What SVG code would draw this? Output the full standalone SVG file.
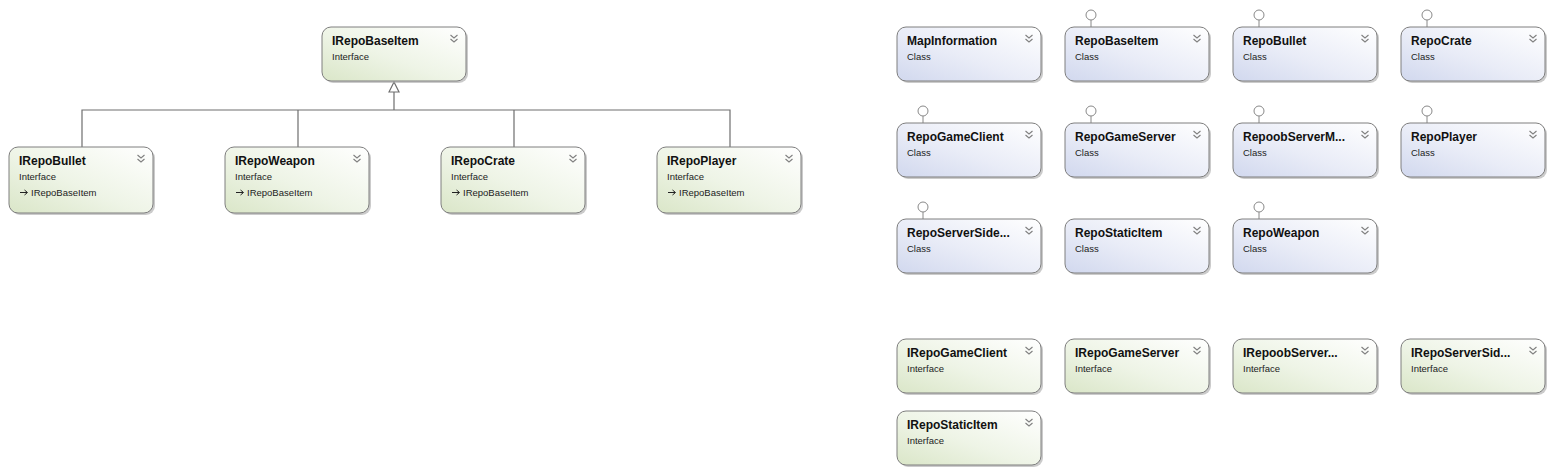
<svg xmlns="http://www.w3.org/2000/svg" width="1555" height="474" viewBox="0 0 1555 474">
<defs>
<linearGradient id="gi" x1="0" y1="1" x2="1" y2="0">
<stop offset="0" stop-color="#dae6c8"/><stop offset="0.45" stop-color="#eef4e6"/><stop offset="1" stop-color="#ffffff"/>
</linearGradient>
<linearGradient id="gc" x1="0" y1="1" x2="1" y2="0">
<stop offset="0" stop-color="#d1d8ee"/><stop offset="0.45" stop-color="#e9ecf7"/><stop offset="1" stop-color="#ffffff"/>
</linearGradient>
<g id="chev"><path d="M-3.5,-4 L0,-1 L3.5,-4 M-3.5,0 L0,3 L3.5,0" fill="none" stroke="#808080" stroke-width="1.1"/></g>
<g id="lol"><circle cx="0" cy="-12" r="5" fill="#fff" stroke="#888" stroke-width="1"/><line x1="0" y1="-7" x2="0" y2="0" stroke="#888" stroke-width="1"/></g>
</defs>
<style>
.sh{fill:#a8a8a8;opacity:0.6}
.bi{fill:url(#gi);stroke:#7e7e7e;stroke-width:1}
.bc{fill:url(#gc);stroke:#7e7e7e;stroke-width:1}
.t{font-family:"Liberation Sans",Arial,sans-serif;font-size:12px;font-weight:bold;fill:#111}
.s{font-family:"Liberation Sans",Arial,sans-serif;font-size:9.5px;fill:#222}
.c{fill:none;stroke:#6e6e6e;stroke-width:1.2}
</style>
<rect width="1555" height="474" fill="#fff"/>
<g id="connectors">
<path class="c" d="M82,147 V110 H730 V147 M298,110 V147 M514,110 V147 M394,110 V92"/>
<path d="M389,92 L394,82 L399,92 Z" fill="#fff" stroke="#6e6e6e" stroke-width="1.2"/>
</g>
<g id="IRepoBaseItem"><rect class="sh" x="324" y="29" width="144" height="54" rx="9"/><rect class="bi" x="322" y="27" width="144" height="54" rx="9"/><text class="t" x="332" y="45">IRepoBaseItem</text><text class="s" x="332" y="60">Interface</text><use href="#chev" x="454" y="39"/></g>
<g id="IRepoBullet"><rect class="sh" x="11" y="149" width="144" height="66" rx="9"/><rect class="bi" x="9" y="147" width="144" height="66" rx="9"/><text class="t" x="19" y="165">IRepoBullet</text><text class="s" x="19" y="180">Interface</text><path d="M20,192.5 H27 M24.5,190 L27.5,192.5 L24.5,195" fill="none" stroke="#222" stroke-width="1"/><text class="s" x="31" y="196">IRepoBaseItem</text><use href="#chev" x="141" y="159"/></g>
<g id="IRepoWeapon"><rect class="sh" x="227" y="149" width="144" height="66" rx="9"/><rect class="bi" x="225" y="147" width="144" height="66" rx="9"/><text class="t" x="235" y="165">IRepoWeapon</text><text class="s" x="235" y="180">Interface</text><path d="M236,192.5 H243 M240.5,190 L243.5,192.5 L240.5,195" fill="none" stroke="#222" stroke-width="1"/><text class="s" x="247" y="196">IRepoBaseItem</text><use href="#chev" x="357" y="159"/></g>
<g id="IRepoCrate"><rect class="sh" x="443" y="149" width="144" height="66" rx="9"/><rect class="bi" x="441" y="147" width="144" height="66" rx="9"/><text class="t" x="451" y="165">IRepoCrate</text><text class="s" x="451" y="180">Interface</text><path d="M452,192.5 H459 M456.5,190 L459.5,192.5 L456.5,195" fill="none" stroke="#222" stroke-width="1"/><text class="s" x="463" y="196">IRepoBaseItem</text><use href="#chev" x="573" y="159"/></g>
<g id="IRepoPlayer"><rect class="sh" x="659" y="149" width="144" height="66" rx="9"/><rect class="bi" x="657" y="147" width="144" height="66" rx="9"/><text class="t" x="667" y="165">IRepoPlayer</text><text class="s" x="667" y="180">Interface</text><path d="M668,192.5 H675 M672.5,190 L675.5,192.5 L672.5,195" fill="none" stroke="#222" stroke-width="1"/><text class="s" x="679" y="196">IRepoBaseItem</text><use href="#chev" x="789" y="159"/></g>

<g id="MapInformation"><rect class="sh" x="899" y="29" width="144" height="54" rx="9"/><rect class="bc" x="897" y="27" width="144" height="54" rx="9"/><text class="t" x="907" y="45">MapInformation</text><text class="s" x="907" y="60">Class</text><use href="#chev" x="1029" y="39"/></g>
<g id="RepoBaseItem"><use href="#lol" x="1091" y="27"/><rect class="sh" x="1067" y="29" width="144" height="54" rx="9"/><rect class="bc" x="1065" y="27" width="144" height="54" rx="9"/><text class="t" x="1075" y="45">RepoBaseItem</text><text class="s" x="1075" y="60">Class</text><use href="#chev" x="1197" y="39"/></g>
<g id="RepoBullet"><use href="#lol" x="1259" y="27"/><rect class="sh" x="1235" y="29" width="144" height="54" rx="9"/><rect class="bc" x="1233" y="27" width="144" height="54" rx="9"/><text class="t" x="1243" y="45">RepoBullet</text><text class="s" x="1243" y="60">Class</text><use href="#chev" x="1365" y="39"/></g>
<g id="RepoCrate"><use href="#lol" x="1427" y="27"/><rect class="sh" x="1403" y="29" width="144" height="54" rx="9"/><rect class="bc" x="1401" y="27" width="144" height="54" rx="9"/><text class="t" x="1411" y="45">RepoCrate</text><text class="s" x="1411" y="60">Class</text><use href="#chev" x="1533" y="39"/></g>

<g id="RepoGameClient"><use href="#lol" x="923" y="123"/><rect class="sh" x="899" y="125" width="144" height="54" rx="9"/><rect class="bc" x="897" y="123" width="144" height="54" rx="9"/><text class="t" x="907" y="141">RepoGameClient</text><text class="s" x="907" y="156">Class</text><use href="#chev" x="1029" y="135"/></g>
<g id="RepoGameServer"><use href="#lol" x="1091" y="123"/><rect class="sh" x="1067" y="125" width="144" height="54" rx="9"/><rect class="bc" x="1065" y="123" width="144" height="54" rx="9"/><text class="t" x="1075" y="141">RepoGameServer</text><text class="s" x="1075" y="156">Class</text><use href="#chev" x="1197" y="135"/></g>
<g id="RepoobServerM"><use href="#lol" x="1259" y="123"/><rect class="sh" x="1235" y="125" width="144" height="54" rx="9"/><rect class="bc" x="1233" y="123" width="144" height="54" rx="9"/><text class="t" x="1243" y="141">RepoobServerM...</text><text class="s" x="1243" y="156">Class</text><use href="#chev" x="1365" y="135"/></g>
<g id="RepoPlayer"><use href="#lol" x="1427" y="123"/><rect class="sh" x="1403" y="125" width="144" height="54" rx="9"/><rect class="bc" x="1401" y="123" width="144" height="54" rx="9"/><text class="t" x="1411" y="141">RepoPlayer</text><text class="s" x="1411" y="156">Class</text><use href="#chev" x="1533" y="135"/></g>

<g id="RepoServerSide"><use href="#lol" x="923" y="219"/><rect class="sh" x="899" y="221" width="144" height="54" rx="9"/><rect class="bc" x="897" y="219" width="144" height="54" rx="9"/><text class="t" x="907" y="237">RepoServerSide...</text><text class="s" x="907" y="252">Class</text><use href="#chev" x="1029" y="231"/></g>
<g id="RepoStaticItem"><rect class="sh" x="1067" y="221" width="144" height="54" rx="9"/><rect class="bc" x="1065" y="219" width="144" height="54" rx="9"/><text class="t" x="1075" y="237">RepoStaticItem</text><text class="s" x="1075" y="252">Class</text><use href="#chev" x="1197" y="231"/></g>
<g id="RepoWeapon"><use href="#lol" x="1259" y="219"/><rect class="sh" x="1235" y="221" width="144" height="54" rx="9"/><rect class="bc" x="1233" y="219" width="144" height="54" rx="9"/><text class="t" x="1243" y="237">RepoWeapon</text><text class="s" x="1243" y="252">Class</text><use href="#chev" x="1365" y="231"/></g>

<g id="IRepoGameClient"><rect class="sh" x="899" y="341" width="144" height="54" rx="9"/><rect class="bi" x="897" y="339" width="144" height="54" rx="9"/><text class="t" x="907" y="357">IRepoGameClient</text><text class="s" x="907" y="372">Interface</text><use href="#chev" x="1029" y="351"/></g>
<g id="IRepoGameServer"><rect class="sh" x="1067" y="341" width="144" height="54" rx="9"/><rect class="bi" x="1065" y="339" width="144" height="54" rx="9"/><text class="t" x="1075" y="357">IRepoGameServer</text><text class="s" x="1075" y="372">Interface</text><use href="#chev" x="1197" y="351"/></g>
<g id="IRepoobServer"><rect class="sh" x="1235" y="341" width="144" height="54" rx="9"/><rect class="bi" x="1233" y="339" width="144" height="54" rx="9"/><text class="t" x="1243" y="357">IRepoobServer...</text><text class="s" x="1243" y="372">Interface</text><use href="#chev" x="1365" y="351"/></g>
<g id="IRepoServerSide"><rect class="sh" x="1403" y="341" width="144" height="54" rx="9"/><rect class="bi" x="1401" y="339" width="144" height="54" rx="9"/><text class="t" x="1411" y="357">IRepoServerSid...</text><text class="s" x="1411" y="372">Interface</text><use href="#chev" x="1533" y="351"/></g>
<g id="IRepoStaticItem"><rect class="sh" x="899" y="413" width="144" height="54" rx="9"/><rect class="bi" x="897" y="411" width="144" height="54" rx="9"/><text class="t" x="907" y="429">IRepoStaticItem</text><text class="s" x="907" y="444">Interface</text><use href="#chev" x="1029" y="423"/></g>
</svg>
